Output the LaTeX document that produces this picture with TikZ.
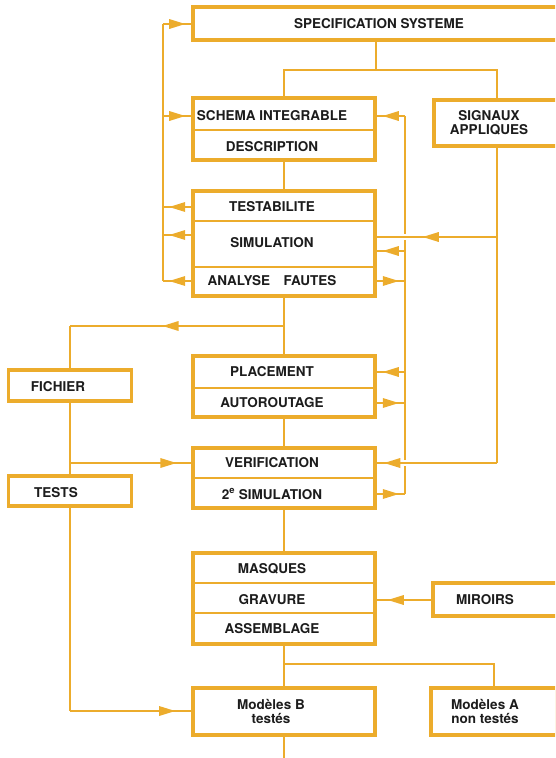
\documentclass[tikz,border=0pt]{standalone}
\usepackage{fontspec}
\setmainfont{TeX Gyre Heros}
\usetikzlibrary{calc,decorations.markings}
\definecolor{ocre}{RGB}{236,172,44}
\definecolor{ink}{RGB}{28,28,28}

\begin{document}
\begin{tikzpicture}[x=1pt,y=-1pt,frame/.style={draw=ocre,line width=3.2pt,minimum width=182pt,inner sep=0pt},txt/.style={text=ink,font=\fontsize{13.5}{14}\selectfont\bfseries,align=center,inner sep=1pt},ln/.style={draw=ocre,line width=1.4pt},sep/.style={draw=ocre,line width=1.2pt},midarr/.style={postaction={decorate},decoration={markings,mark=at position #1 with {\fill[ocre] (8pt,0pt) -- (-8pt,5pt) -- (-8pt,-5pt) -- cycle;}}},midarr/.default=.5,bridge/.style={preaction={draw=white,line width=6pt,shorten <=5pt,shorten >=5pt}}]
\useasboundingbox (0,0) rectangle (555,758);
\clip (0,0) rectangle (555,758);
% boxes
\node[frame,minimum width=394pt,minimum height=33pt] (fspec) at (390,23.5) {};
\node[txt] (spec) at (379,24) {SPECIFICATION SYSTEME};
\node[frame,minimum height=62pt] (fschema) at (284,129) {};
\node[txt] (schema) at (272,116) {SCHEMA INTEGRABLE};
\node[txt] (descr) at (272,147) {DESCRIPTION};
\draw[sep] (fschema.west |- 0,130) -- (fschema.east |- 0,130);
\node[frame,minimum width=126pt,minimum height=46pt] (fsig) at (497,123) {};
\node[txt] (sig) at (489,123) {SIGNAUX\\APPLIQUES};
\node[frame,minimum height=105pt] (ftest) at (284,243.5) {};
\node[txt] (testab) at (272,207) {TESTABILITE};
\node[txt] (sim) at (272,243) {SIMULATION};
\node[txt] (analyse) at (272,281) {ANALYSE\quad FAUTES};
\draw[sep] (ftest.west |- 0,221) -- (ftest.east |- 0,221);
\draw[sep] (ftest.west |- 0,267) -- (ftest.east |- 0,267);
\node[frame,minimum height=61pt] (fplace) at (284,386.5) {};
\node[txt] (place) at (272,372) {PLACEMENT};
\node[txt] (autor) at (272,403) {AUTOROUTAGE};
\draw[sep] (fplace.west |- 0,388) -- (fplace.east |- 0,388);
\node[frame,minimum height=60pt] (fverif) at (284,478) {};
\node[txt] (verif) at (272,463) {VERIFICATION};
\node[txt] (sim2) at (272,494) {2\textsuperscript{e} SIMULATION};
\draw[sep] (fverif.west |- 0,478) -- (fverif.east |- 0,478);
\node[frame,minimum height=91pt] (fmasq) at (284,598.5) {};
\node[txt] (masq) at (272,569) {MASQUES};
\node[txt] (grav) at (272,600) {GRAVURE};
\node[txt] (assem) at (272,629) {ASSEMBLAGE};
\draw[sep] (fmasq.west |- 0,583) -- (fmasq.east |- 0,583);
\draw[sep] (fmasq.west |- 0,613) -- (fmasq.east |- 0,613);
\node[frame,minimum width=130pt,minimum height=33pt] (fmir) at (498,599.5) {};
\node[txt] (mir) at (485,600) {MIROIRS};
\node[frame,minimum height=47pt] (fmodb) at (284,711.5) {};
\node[txt] (modb) at (271,711) {Modèles B\\testés};
\node[frame,minimum width=126pt,minimum height=47pt] (fmoda) at (494,711.5) {};
\node[txt] (moda) at (485,711) {Modèles A\\non testés};
\node[frame,minimum width=123pt,minimum height=31pt] (ffich) at (70,385.5) {};
\node[txt] (fich) at (58,387) {FICHIER};
\node[frame,minimum width=123pt,minimum height=30pt] (ftests) at (70,491) {};
\node[txt] (tests) at (56,493) {TESTS};
% junctions
\coordinate (jtop) at (376,70);
\coordinate (lx) at (163,24);
\coordinate (rx) at (405,116);
\coordinate (sigin) at (497,237);
\coordinate (jfich) at (284,326);
\coordinate (jmod) at (284,664);
\coordinate (out) at (284,770);
% top
\draw[ln] (fspec.south -| jtop) -- (jtop);
\draw[ln] (fschema.north) |- (jtop) -| (fsig.north);
\draw[ln] (fschema) -- (ftest);
% left loop
\draw[ln] (lx) -- (lx |- analyse);
\draw[ln,midarr] (lx) -- (fspec.west |- lx);
\draw[ln,midarr] (lx |- schema) -- (fschema.west |- schema);
\draw[ln,midarr] (ftest.west |- testab) -- (lx |- testab);
\draw[ln,midarr] ($(ftest.west |- sim)+(0,-8)$) -- ($(lx |- sim)+(0,-8)$);
\draw[ln,midarr] (ftest.west |- analyse) -- (lx |- analyse);
% right loop
\draw[ln] (rx) -- (rx |- sim2);
\draw[ln,midarr] (rx) -- (fschema.east |- rx);
\draw[ln,midarr] ($(rx |- sim)+(0,8)$) -- ($(ftest.east |- sim)+(0,8)$);
\draw[ln,midarr] (ftest.east |- analyse) -- (rx |- analyse);
\draw[ln,midarr] (rx |- place) -- (fplace.east |- place);
\draw[ln,midarr] (fplace.east |- autor) -- (rx |- autor);
\draw[ln,midarr] (fverif.east |- sim2) -- (rx |- sim2);
% signaux
\draw[ln] (fsig.south) -- (fsig.south |- verif);
\draw[ln,bridge,midarr=.55] (sigin) -- (ftest.east |- sigin);
\draw[ln,bridge,midarr=.87] (fsig.south |- verif) -- (fverif.east |- verif);
% lower chain
\draw[ln] (ftest) -- (fplace);
\draw[ln,midarr=.53] (jfich) -- (jfich -| ffich);
\draw[ln] (jfich -| ffich) -- (ffich);
\draw[ln] (ffich) -- (ftests);
\draw[ln,midarr=.81] (ffich.south |- verif) -- (fverif.west |- verif);
\draw[ln] (ftests) -- (ftests |- modb);
\draw[ln,midarr=.8] (ftests |- modb) -- (fmodb.west |- modb);
\draw[ln] (fplace) -- (fverif);
\draw[ln] (fverif) -- (fmasq);
\draw[ln] (fmasq) -- (fmodb);
\draw[ln] (jmod) -| (fmoda);
\draw[ln] (fmodb) -- (out);
\draw[ln,midarr=.65] (fmir.west |- grav) -- (fmasq.east |- grav);
\end{tikzpicture}
\end{document}
